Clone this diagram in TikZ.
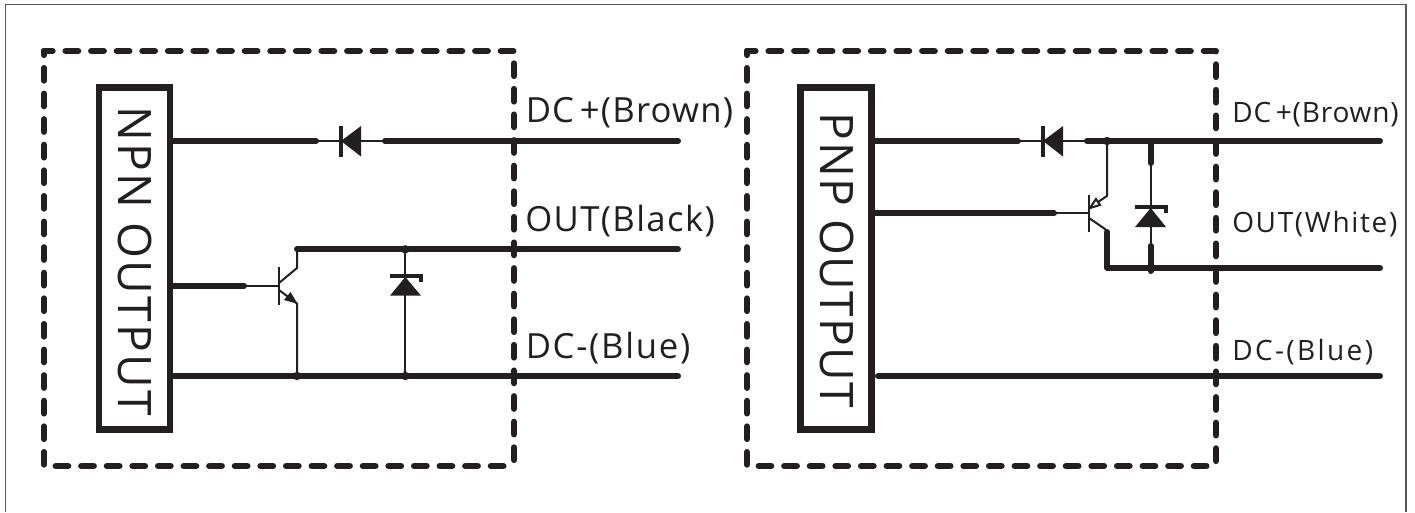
\documentclass[tikz,border=0pt]{standalone}
\usepackage{fontspec}
\setmainfont{Open Sans}
\definecolor{ink}{HTML}{231F20}
\pgfdeclarelayer{wires}
\pgfsetlayers{wires,main}
\tikzset{
 x=0.75pt,y=-0.75pt,
 thick wire/.style={draw=ink,line width=4.5pt,line cap=round},
 thin wire/.style={draw=ink,line width=1.5pt},
 dash box/.style={draw=ink,line width=4.7pt,line cap=round,line join=round,dash pattern=on 9.4pt off 9.8pt},
 label box/.style={draw=ink,line width=4.9pt,fill=white,outer sep=0pt,inner sep=0pt,minimum width=53.25pt,minimum height=256.5pt},
 symbol/.style={fill=ink,draw=none},
 bar/.style={draw=ink,line width=2.7pt},
 junction/.style={circle,fill=ink,inner sep=0pt,minimum size=6.3pt},
 big label/.style={text=ink,font=\fontsize{26pt}{28pt}\selectfont\addfontfeature{LetterSpace=#1},anchor=base west,inner sep=0pt},
 small label/.style={text=ink,font=\fontsize{21pt}{24pt}\selectfont\addfontfeature{LetterSpace=#1},anchor=base west,inner sep=0pt},
 box label/.style={text=ink,rotate=-90,inner sep=0pt},
}
\begin{document}
\begin{tikzpicture}
\useasboundingbox (0,0) rectangle (1415,512);
\draw[ink!75,line width=0.9pt] (5.5,512)--(5.5,4.5)--(1406,4.5)--(1406,512);
% ---- left
\node[label box] (npn) at (134.7,258.5) {};
\node[box label,font=\fontsize{34.6pt}{36pt}\selectfont\addfontfeature{LetterSpace=5}] (npnt) at (134.5,261) {NPN OUTPUT};
\coordinate (l1a) at (npn.east |- 0,141); \coordinate (l1b) at (316,141); \coordinate (l1c) at (385,141); \coordinate (l1d) at (678,141);
\coordinate (l2a) at (297,249.3); \coordinate (l2z) at (405.3,249.3); \coordinate (l2d) at (678,249.3);
\coordinate (l3a) at (npn.east |- 0,376); \coordinate (l3t) at (297,376); \coordinate (l3z) at (405.3,376); \coordinate (l3d) at (678,376);
\coordinate (lba) at (npn.east |- 0,285.7); \coordinate (lbb) at (244,285.7); \coordinate (lbc) at (279,285.7);
\begin{pgfonlayer}{wires}
\draw[thick wire] (l1a)--(l1b) (l1c)--(l1d) (l2a)--(l2d) (l3a)--(l3d) (lba)--(lbb);
\end{pgfonlayer}
\draw[thin wire] (l1b)--(l1c);
\draw[thin wire] (lbb)--(lbc);
\fill[symbol] (341,141)--(361,126)--(361,156.5)--cycle;
\draw[bar] (341,126)--(341,156.5);
\draw[thin wire] (279,267)--(279,304.7);
\draw[thin wire] (279,283)--(297,268)--(l2a);
\draw[thin wire] (279,290)--(297,303.5)--(l3t);
\fill[symbol] (297.5,303.7)--(290.5,292)--(284,300)--cycle;
\draw[thin wire] (l2z)--(l3z);
\fill[symbol] (405.3,277)--(421,295.7)--(390,295.7)--cycle;
\draw[bar] (390,275.7)--(421,275.7)--(421,281.7);
\node[junction] at (l2z) {};
\node[junction] at (l3t) {};
\node[junction] at (l3z) {};
\draw[dash box,dash phase=3pt] (44,51)--(514,51)--(514,466);
\draw[dash box,dash phase=6.4pt] (44,51)--(44,466)--(514,466);
\node[big label=3.5] (a1) at (525.5,122) {DC\,+(Brown)};
\node[big label=4] (a2) at (525,231) {OUT(Black)};
\node[big label=5] (a3) at (525.5,358) {DC-(Blue)};
% ---- right
\node[label box] (pnp) at (836,258.5) {};
\node[box label,font=\fontsize{34.6pt}{36pt}\selectfont\addfontfeature{LetterSpace=3}] (pnpt) at (836.5,260.5) {PNP OUTPUT};
\coordinate (r1a) at (pnp.east |- 0,141); \coordinate (r1b) at (1018,141); \coordinate (r1c) at (1087,141); \coordinate (r1t) at (1107,141); \coordinate (r1z) at (1150.7,141); \coordinate (r1d) at (1380,141);
\coordinate (rba) at (pnp.east |- 0,213.3); \coordinate (rbb) at (1054,213.3); \coordinate (rbc) at (1089,213.3);
\coordinate (r2a) at (1107,232); \coordinate (r2c) at (1107,267.7); \coordinate (r2z) at (1150.7,267.7); \coordinate (r2d) at (1380,267.7);
\coordinate (r3a) at (878,376); \coordinate (r3d) at (1380,376);
\begin{pgfonlayer}{wires}
\draw[thick wire] (r1a)--(r1b) (r1c)--(r1d) (rba)--(rbb);
\draw[thick wire,line join=round] (r2a)--(r2c)--(r2d);
\draw[thick wire] (r3a)--(r3d);
\end{pgfonlayer}
\draw[thin wire] (r1b)--(r1c) (rbb)--(rbc);
\fill[symbol] (1043,141)--(1063,126)--(1063,156.5)--cycle;
\draw[bar] (1043,126)--(1043,156.5);
\draw[thin wire] (1089,195)--(1089,232);
\draw[thin wire] (r1t)--(1107,196)--(1092,206);
\draw[thin wire] (1089,218)--(1105,229)--(r2a);
\draw[thin wire,fill=white] (1090,208)--(1100,205)--(1096,199)--cycle;
\draw[thin wire] (r1z)--(r2z);
\draw[thick wire] (r1z)--(1150.7,163) (1150.7,246)--(1150.7,271);
\fill[symbol] (1150.7,208)--(1166,227)--(1135,227)--cycle;
\draw[bar] (1135,207)--(1166,207)--(1166,213);
\node[junction] at (r1t) {};
\draw[dash box,dash phase=3pt] (747,51)--(1216,51)--(1216,466);
\draw[dash box,dash phase=6.4pt] (747,51)--(747,466)--(1216,466);
\node[small label=3] (b1) at (1232,122) {DC\,+(Brown)};
\node[small label=6] (b2) at (1232,232) {OUT(White)};
\node[small label=8.5] (b3) at (1232,360) {DC-(Blue)};
\end{tikzpicture}
\end{document}
